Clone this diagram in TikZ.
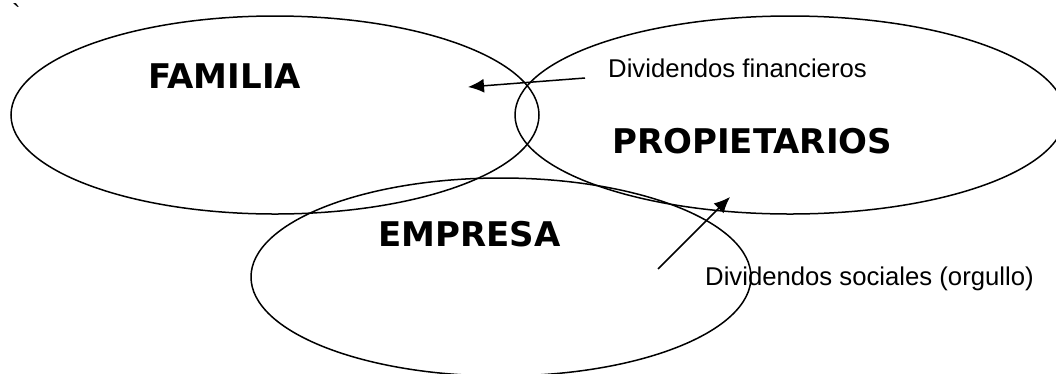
\documentclass[tikz,border=0pt]{standalone}
\usepackage{fontspec}
\setmainfont{Liberation Sans}
\newfontfamily\titlefont{DejaVu Sans}
\usepackage{tikz}
\usetikzlibrary{positioning}
\usetikzlibrary{shapes.geometric}
\usetikzlibrary{arrows.meta}

\begin{document}
\begin{tikzpicture}[x=1pt, y=-1pt,
  set/.style={draw, ellipse, line width=1.5pt, inner sep=0pt},
  title/.style={font=\titlefont\fontsize{34}{34}\selectfont\bfseries, anchor=base west, inner sep=0pt},
  note/.style={font=\fontsize{25.7}{26}\selectfont, anchor=base west, inner sep=0pt},
  link/.style={line width=1.5pt, -{Latex[length=16pt,width=14pt]}}]

    \useasboundingbox (0,0) rectangle (1056,373);

    % Define nodes
    \node[set, minimum width=528pt, minimum height=198pt] (familia) at (275,115) {};
    \node[set, minimum width=550pt, minimum height=198pt] (prop)    at (790,115) {};
    \node[set, minimum width=500pt, minimum height=198pt] (empresa) at (501,277) {};

    \node[title] (famtxt)  at (148,88)  {FAMILIA};
    \node[title] (proptxt) at (612,153) {PROPIETARIOS};
    \node[title] (emptxt)  at (378,246) {EMPRESA};

    \node[note] (fin) at (608,77)  {Dividendos financieros};
    \node[note] (soc) at (705,285) {Dividendos sociales (orgullo)};
    \node[note] (tick) at (12,22) {\textasciigrave};

    \coordinate (finTail) at (585,78);
    \coordinate (finTip)  at (468,87);
    \coordinate (socTail) at (658,269);
    \coordinate (socTip)  at (730,197);

    % Connect the nodes
    \draw[link] (finTail) -- (finTip); %
    \draw[link] (socTail) -- (socTip); %
\end{tikzpicture}
\end{document}
